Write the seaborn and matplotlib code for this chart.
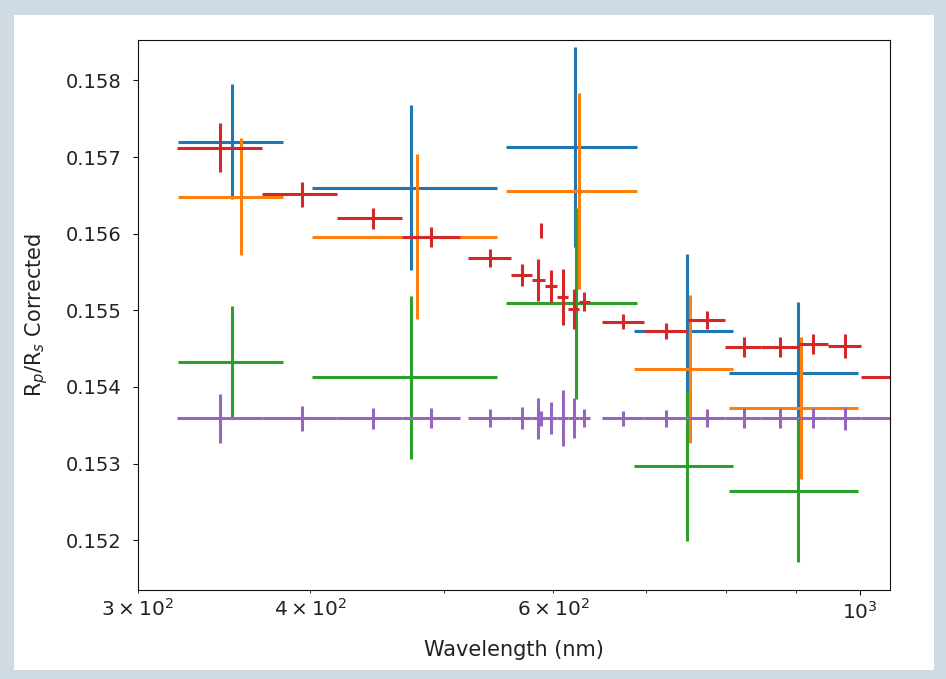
import matplotlib
matplotlib.use("Agg")
import matplotlib.pyplot as plt
import seaborn as sns
from matplotlib.ticker import FixedLocator, FixedFormatter, FormatStrFormatter

# ---------------- data ----------------
# broad photometric bands (nm) shared by blue / orange / green
band_lo = [320.9, 401.0, 554.5, 686.4, 804.2]
band_hi = [382.3, 546.0, 689.5, 809.5, 997.2]

blue_wl = [351.1, 473.3, 622.1, 750.1, 901.8]
blue_rp = [0.157201, 0.156601, 0.157136, 0.154730, 0.154178]
blue_err = [0.00075, 0.001077, 0.001305, 0.001001, 0.000931]

orange_wl = [356.5, 477.8, 626.2, 753.5, 906.3]
orange_rp = [0.156483, 0.155961, 0.156558, 0.154230, 0.153729]
orange_err = [0.00076, 0.001077, 0.001275, 0.000966, 0.000925]

green_wl = [351.1, 473.3, 622.8, 750.1, 901.8]
green_rp = [0.154330, 0.154126, 0.155092, 0.152968, 0.152638]
green_err = [0.000728, 0.001066, 0.00125, 0.000975, 0.000927]

# narrow spectroscopic bins (red) ; purple = same bins at a flat level
red_wl = [344.2, 394.4, 444.0, 489.1, 539.9, 569.2, 585.2, 587.9, 597.4, 609.5,
          621.0, 631.8, 674.3, 724.0, 774.8, 824.9, 875.6, 925.6, 975.8, 1058.0]
red_lo = [320.2, 369.4, 418.6, 466.6, 520.8, 559.0, 579.6, 587.0, 591.8, 603.7,
          615.2, 626.0, 650.4, 697.9, 749.7, 799.4, 849.2, 903.8, 949.0, 1002.2]
red_hi = [368.9, 418.6, 466.6, 513.6, 559.0, 579.6, 591.8, 589.0, 603.7, 615.2,
          626.0, 637.8, 697.9, 749.7, 799.4, 849.2, 903.8, 949.0, 1002.2, 1115.0]
red_rp = [0.157123, 0.156518, 0.156201, 0.155961, 0.155679, 0.155461, 0.155396,
          0.156036, 0.155318, 0.155170, 0.155014, 0.155113, 0.154852, 0.154730,
          0.154874, 0.154525, 0.154525, 0.154561, 0.154535, 0.154134]
red_err = [0.000316, 0.000163, 0.000137, 0.000131, 0.000117, 0.000141, 0.000271,
           0.000098, 0.000211, 0.000363, 0.000261, 0.000120, 0.000098, 0.000108,
           0.000120, 0.000131, 0.000131, 0.000131, 0.000153, 0.000157]
purple_level = 0.153591

x_label = "Wavelength (nm)"
y_label = r"R$_p$/R$_s$ Corrected"
y_ticks = [0.152, 0.153, 0.154, 0.155, 0.156, 0.157, 0.158]
x_minor_ticks = [300, 400, 500, 600, 700, 800, 900]
x_minor_labels = [r"$\mathdefault{3\times10^{2}}$", r"$\mathdefault{4\times10^{2}}$", "",
                  r"$\mathdefault{6\times10^{2}}$", "", "", ""]
x_major_ticks = [1000]
x_major_labels = [r"$\mathdefault{10^{3}}$"]

# ---------------- style ----------------
sns.set_style("ticks", rc={
    "axes.edgecolor": "#111111",
    "axes.linewidth": 1.2,
    "xtick.color": "#111111",
    "ytick.color": "#111111",
    "xtick.direction": "out",
    "ytick.direction": "out",
    "xtick.major.size": 5.5,
    "ytick.major.size": 5.5,
    "xtick.minor.size": 3.2,
    "xtick.major.width": 1.2,
    "ytick.major.width": 1.2,
    "xtick.minor.width": 1.0,
    "axes.spines.right": True,
    "axes.spines.top": True,
})
plt.rcParams["font.family"] = ["DejaVu Sans"]
plt.rcParams["font.size"] = 14.5
plt.rcParams["mathtext.fontset"] = "dejavusans"

pal = sns.color_palette("tab10")

fig = plt.figure(figsize=(9.46, 6.79), dpi=100, facecolor="#d0dae3")
fig.add_artist(plt.Rectangle((14 / 946, 9 / 679), 920 / 946, 655 / 679,
                             transform=fig.transFigure, facecolor="white",
                             edgecolor="none", zorder=0))
ax = fig.add_axes([137.6 / 946, (679 - 590) / 679, 752.3 / 946, 549.6 / 679])
ax.set_facecolor("white")

lw = 2.2


def band_xerr(wl):
    return [[w - lo for w, lo in zip(wl, band_lo)],
            [hi - w for w, hi in zip(wl, band_hi)]]


ax.errorbar(blue_wl, blue_rp, yerr=blue_err, xerr=band_xerr(blue_wl),
            fmt="none", ecolor=pal[0], elinewidth=lw)
ax.errorbar(orange_wl, orange_rp, yerr=orange_err, xerr=band_xerr(orange_wl),
            fmt="none", ecolor=pal[1], elinewidth=lw)
ax.errorbar(green_wl, green_rp, yerr=green_err, xerr=band_xerr(green_wl),
            fmt="none", ecolor=pal[2], elinewidth=lw)

red_xerr = [[w - lo for w, lo in zip(red_wl, red_lo)],
            [hi - w for w, hi in zip(red_wl, red_hi)]]
ax.errorbar(red_wl, red_rp, yerr=red_err, xerr=red_xerr,
            fmt="none", ecolor=pal[3], elinewidth=lw)
ax.errorbar(red_wl, [purple_level] * len(red_wl), yerr=red_err, xerr=red_xerr,
            fmt="none", ecolor=pal[4], elinewidth=lw)

ax.set_xscale("log")
ax.set_xlim(300, 1052)
ax.set_ylim(0.15135, 0.158523)

ax.xaxis.set_major_locator(FixedLocator(x_major_ticks))
ax.xaxis.set_major_formatter(FixedFormatter(x_major_labels))
ax.xaxis.set_minor_locator(FixedLocator(x_minor_ticks))
ax.xaxis.set_minor_formatter(FixedFormatter(x_minor_labels))
ax.set_yticks(y_ticks)
ax.yaxis.set_major_formatter(FormatStrFormatter("%.3f"))
ax.tick_params(axis="x", which="both", labelsize=14.5, labelcolor="#222222", pad=4)
ax.tick_params(axis="y", which="both", labelsize=14, labelcolor="#222222", pad=8)

ax.set_xlabel(x_label, fontsize=15, color="#222222", labelpad=13)
ax.set_ylabel(y_label, fontsize=15, color="#222222", labelpad=11)

for s in ax.spines.values():
    s.set_visible(True)

fig.savefig("out.png", dpi=100, facecolor=fig.get_facecolor())
